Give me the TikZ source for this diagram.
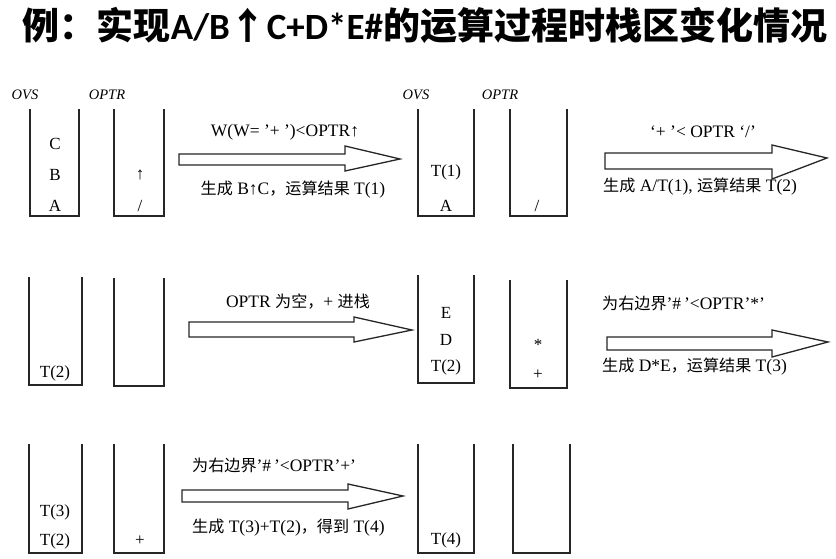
\documentclass[tikz,border=0pt]{standalone}
\usepackage{fontspec}
\setmainfont{Liberation Serif}
\newfontfamily\cjk[Scale=0.92]{Noto Sans CJK SC}
\newfontfamily\cjkt{Noto Sans CJK SC}
\newfontfamily\carl{Carlito}
\begin{document}
\begin{tikzpicture}[x=1pt,y=-1pt,
  stackline/.style={line width=1.6pt, draw=black!85, line join=miter},
  blockarr/.style={line width=1.3pt, draw=black!85, fill=white, line join=miter},
  lbl/.style={font=\fontsize{14.5}{14.5}\selectfont\itshape, inner sep=0pt},
  item/.style={font=\fontsize{17}{17}\selectfont, inner sep=0pt},
  captxt/.style={font=\fontsize{17.5}{17.5}\selectfont, inner sep=0pt},
]
\useasboundingbox (0,0) rectangle (836,559);
% title
\node[inner sep=0pt, font=\fontsize{37}{37}\selectfont\bfseries\cjkt] (title) at (425,25)
  {例：实现{\carl A/B}↑{\carl C+D*E\#}的运算过程时栈区变化情况};
% labels
\node[lbl] (ovs1) at (25,95) {OVS};
\node[lbl] (optr1) at (107,95) {OPTR};
\node[lbl] (ovs2) at (416,95) {OVS};
\node[lbl] (optr2) at (500,95) {OPTR};
% stacks
\draw[stackline] (30,109) -- (30,216) -- (79,216) -- (79,109);
\draw[stackline] (114,109) -- (114,216) -- (164,216) -- (164,109);
\draw[stackline] (418,109) -- (418,216) -- (474,216) -- (474,109);
\draw[stackline] (510,109) -- (510,216) -- (567,216) -- (567,109);
\draw[stackline] (29,277) -- (29,385) -- (82,385) -- (82,277);
\draw[stackline] (114,278) -- (114,386) -- (164,386) -- (164,278);
\draw[stackline] (418,275) -- (418,383) -- (474,383) -- (474,275);
\draw[stackline] (510,280) -- (510,388) -- (567,388) -- (567,280);
\draw[stackline] (29,444) -- (29,553) -- (82,553) -- (82,444);
\draw[stackline] (114,444) -- (114,553) -- (164,553) -- (164,444);
\draw[stackline] (418,444) -- (418,553) -- (474,553) -- (474,444);
\draw[stackline] (513,444) -- (513,553) -- (570,553) -- (570,444);
% contents
\node[item] (c1) at (55,144) {C};
\node[item] (b1) at (55,175) {B};
\node[item] (a1) at (55,206) {A};
\node[item] (up1) at (140,175) {↑};
\node[item] (dv1) at (140,206) {/};
\node[item] (t1) at (446,172) {T(1)};
\node[item] (a2) at (446,206) {A};
\node[item] (dv2) at (537,206) {/};
\node[item] (t2a) at (55,373) {T(2)};
\node[item] (e1) at (446,313) {E};
\node[item] (d1) at (446,340) {D};
\node[item] (t2b) at (446,367) {T(2)};
\node[item] (st1) at (538,345) {*};
\node[item] (pl1) at (538,375) {+};
\node[item] (t3) at (55,512) {T(3)};
\node[item] (t2c) at (55,541) {T(2)};
\node[item] (pl2) at (140,541) {+};
\node[item] (t4) at (446,540) {T(4)};
% block arrows
\draw[blockarr] (179,154) -- (345,154) -- (345,146) -- (400,159) -- (345,171) -- (345,165) -- (179,165) -- cycle;
\draw[blockarr] (605,153) -- (772,153) -- (772,145) -- (827,158) -- (772,179) -- (772,169) -- (605,169) -- cycle;
\draw[blockarr] (189,322) -- (354,322) -- (354,317) -- (412,330) -- (354,342) -- (354,337) -- (189,337) -- cycle;
\draw[blockarr] (607,337) -- (772,337) -- (772,330) -- (828,342) -- (772,357) -- (772,350) -- (607,350) -- cycle;
\draw[blockarr] (182,490) -- (348,490) -- (348,484) -- (403,496) -- (348,509) -- (348,502) -- (182,502) -- cycle;
% captions
\node[captxt] (k1a) at (285,132) {W(W= ’+ ’)<OPTR↑};
\node[captxt] (k1b) at (293,190) {{\cjk 生成} B↑C{\cjk ，运算结果} T(1)};
\node[captxt] (k2a) at (703,132) {‘+ ’< OPTR ‘/’};
\node[captxt, anchor=west] (k2b) at (603,187) {{\cjk 生成} A/T(1), {\cjk 运算结果} T(2)};
\node[captxt] (k3a) at (298,302) {OPTR {\cjk 为空，}+ {\cjk 进栈}};
\node[captxt, anchor=west] (k4a) at (602,303) {{\cjk 为右边界}’\#\,’<OPTR’*’};
\node[captxt, anchor=west] (k4b) at (602,367) {{\cjk 生成} D*E{\cjk ，运算结果} T(3)};
\node[captxt, anchor=west] (k5a) at (192,465) {{\cjk 为右边界}’\#\,’<OPTR’+’};
\node[captxt, anchor=west] (k5b) at (192,528) {{\cjk 生成} T(3)+T(2){\cjk ，得到} T(4)};
\end{tikzpicture}
\end{document}
